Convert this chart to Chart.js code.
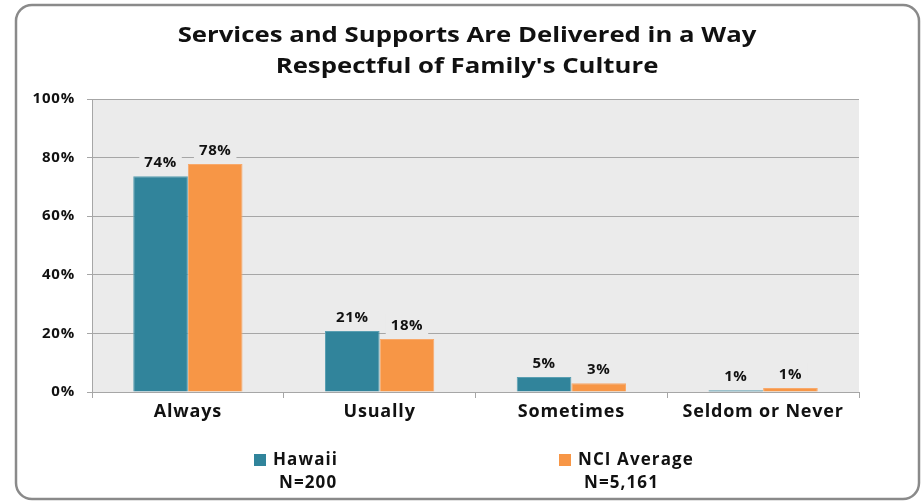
<!DOCTYPE html>
<html>
<head>
<meta charset="utf-8">
<script src="https://cdn.jsdelivr.net/npm/chart.js@4"></script>
<style>
  html, body { margin: 0; padding: 0; background: #fff; }
  #wrap { width: 921px; height: 501px; }
</style>
</head>
<body>
<div id="wrap"><canvas id="chart" width="921" height="501"></canvas></div>
<script>
const categories = ["Always", "Usually", "Sometimes", "Seldom or Never"];
const hawaii = [73.6, 20.8, 5.1, 0.6];
const nciAverage = [77.8, 18.1, 3.0, 1.4];
const seriesNames = ["Hawaii", "NCI Average"];
const sampleSizes = ["N=200", "N=5,161"];
const yTicks = [0, 20, 40, 60, 80, 100];
const titleLines = ["Services and Supports Are Delivered in a Way", "Respectful of Family's Culture"];

const FONT = "'Open Sans', Lato, sans-serif";
const plotBg = "#ebebeb";
const gridColor = "#a6a6a6";

// frame, title, plot background
const backgroundPlugin = {
  id: "background",
  beforeDraw(chart) {
    const { ctx, chartArea: a } = chart;
    ctx.save();
    ctx.fillStyle = "#fff";
    ctx.fillRect(0, 0, chart.width, chart.height);

    ctx.strokeStyle = "#8a8a8a";
    ctx.lineWidth = 2.5;
    ctx.beginPath();
    ctx.roundRect(16, 5, 903, 494, 16);
    ctx.stroke();

    ctx.fillStyle = plotBg;
    ctx.fillRect(a.left, a.top, a.right - a.left, a.bottom - a.top);

    // title glyphs in the reference are wider than Open Sans, so stretch a bit
    ctx.fillStyle = "#111";
    ctx.font = "bold 22px " + FONT;
    ctx.textAlign = "center";
    ctx.textBaseline = "middle";
    ctx.translate(467, 0);
    ctx.scale(1.17, 1);
    ctx.fillText(titleLines[0], 0, 36);
    ctx.fillText(titleLines[1], 0, 67);
    ctx.restore();
    ctx.letterSpacing = "0.8px";
  }
};

// value labels above bars
const valueLabels = {
  id: "valueLabels",
  afterDatasetsDraw(chart) {
    const { ctx } = chart;
    ctx.save();
    ctx.font = "bold 15px " + FONT;
    ctx.letterSpacing = "0.6px";
    ctx.textAlign = "center";
    ctx.textBaseline = "bottom";
    chart.data.datasets.forEach((ds, i) => {
      chart.getDatasetMeta(i).data.forEach((bar, j) => {
        const txt = Math.round(ds.data[j]) + "%";
        const w = ctx.measureText(txt).width;
        const y = bar.y - 6;
        ctx.fillStyle = plotBg;
        ctx.fillRect(bar.x - w / 2 - 5, y - 19, w + 10, 21);
        ctx.fillStyle = "#111";
        ctx.fillText(txt, bar.x, y);
      });
    });
    ctx.restore();
  }
};

// legend with sample sizes under each series name
const legendPlugin = {
  id: "nLegend",
  afterDraw(chart) {
    const { ctx } = chart;
    const xs = [254, 559];
    ctx.save();
    ctx.font = "bold 17px " + FONT;
    ctx.letterSpacing = "1.1px";
    ctx.textBaseline = "middle";
    ctx.textAlign = "left";
    chart.data.datasets.forEach((ds, i) => {
      ctx.fillStyle = ds.backgroundColor;
      ctx.fillRect(xs[i], 454, 12, 12);
      ctx.fillStyle = "#111";
      ctx.fillText(ds.label, xs[i] + 19, 460);
      ctx.fillText(sampleSizes[i], xs[i] + 25, 483);
    });
    ctx.restore();
  }
};

new Chart(document.getElementById("chart"), {
  type: "bar",
  data: {
    labels: categories,
    datasets: [
      { label: seriesNames[0], data: hawaii, backgroundColor: "#31849b", borderColor: "#5a9fb2", borderWidth: 1 },
      { label: seriesNames[1], data: nciAverage, backgroundColor: "#f79646", borderColor: "#f8a96b", borderWidth: 1 }
    ]
  },
  options: {
    responsive: false,
    animation: false,
    layout: { padding: { left: 30, right: 62, top: 99, bottom: 60 } },
    datasets: { bar: { categoryPercentage: 0.57, barPercentage: 1.0 } },
    plugins: {
      legend: { display: false },
      title: { display: false },
      tooltip: { enabled: false }
    },
    scales: {
      x: {
        grid: { display: true, drawOnChartArea: false, offset: true, color: gridColor, tickLength: 6 },
        border: { color: gridColor, width: 1 },
        ticks: { color: "#111", font: { family: FONT, size: 18, weight: "bold" }, padding: 3 },
        afterFit(scale) { scale.height = 49; }
      },
      y: {
        min: 0,
        max: 100,
        afterBuildTicks(scale) { scale.ticks = yTicks.map(v => ({ value: v })); },
        grid: { color: gridColor, tickLength: 5 },
        border: { color: gridColor, width: 1 },
        ticks: {
          color: "#111",
          font: { family: FONT, size: 15, weight: "bold" },
          padding: 12,
          callback: v => v + "%"
        },
        afterFit(scale) { scale.width = 62; }
      }
    }
  },
  plugins: [backgroundPlugin, valueLabels, legendPlugin]
});
</script>
</body>
</html>
